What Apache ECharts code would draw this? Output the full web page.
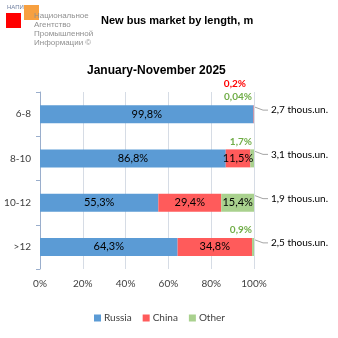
<!DOCTYPE html>
<html>
<head>
<meta charset="utf-8">
<script src="https://cdn.jsdelivr.net/npm/echarts@6/dist/echarts.min.js"></script>
<style>
  html, body { margin: 0; padding: 0; background: #fff; }
  #chart { width: 338px; height: 338px; }
</style>
</head>
<body>
<div id="chart"></div>
<script>
// Bus length classes, top to bottom
const categories = ['6-8', '8-10', '10-12', '>12'];
// Market shares by origin, %
const russia = [99.8, 86.8, 55.3, 64.3];
const china = [0.2, 11.5, 29.4, 34.8];
const other = [0.04, 1.7, 15.4, 0.9];
// Total sales per class, thousand units
const totals = [2.7, 3.1, 1.9, 2.5];
// Value axis tick labels
const xTicks = [0, 20, 40, 60, 80, 100];

const fmt = v => String(v).replace('.', ',') + '%';
const LABEL_FONT = 'Lato, "Liberation Sans", sans-serif';

const chart = echarts.init(document.getElementById('chart'), null, { renderer: 'canvas' });

const insideLabel = (arr, minShow) => ({
  show: true,
  position: 'inside',
  color: '#000',
  fontSize: 11,
  fontFamily: LABEL_FONT,
  formatter: p => (arr[p.dataIndex] >= minShow ? fmt(arr[p.dataIndex]) : '')
});

chart.setOption({
  animation: false,
  backgroundColor: '#fff',
  title: [
    {
      text: 'New bus market by length, m',
      left: 96, top: 10,
      textStyle: { fontSize: 11, fontWeight: 'bold', color: '#000', fontFamily: '"Liberation Sans", Arial, sans-serif' }
    },
    {
      text: 'January-November 2025',
      left: 82, top: 60,
      textStyle: { fontSize: 12, fontWeight: 'bold', color: '#000', fontFamily: '"Liberation Sans", Arial, sans-serif' }
    }
  ],
  graphic: [
    { type: 'rect', shape: { x: 24, y: 5, width: 15, height: 15 }, style: { fill: '#F7A040' } },
    { type: 'rect', shape: { x: 6, y: 13, width: 15, height: 15 }, style: { fill: '#FF0000' } },
    { type: 'text', x: 7, y: 4, style: { text: 'НАПИ', fontSize: 6, fill: '#6F7FA0', fontFamily: '"Liberation Sans Narrow", "Liberation Sans", sans-serif' } },
    { type: 'text', x: 34, y: 11, style: {
        text: 'Национальное\nАгентство\nПромышленной\nИнформации ©',
        fontSize: 8, lineHeight: 9, fill: '#909090',
        fontFamily: '"Liberation Sans Narrow", "Liberation Sans", sans-serif'
      } }
  ],
  legend: {
    bottom: 10,
    left: 89,
    itemWidth: 7,
    itemHeight: 7,
    itemGap: 11,
    icon: 'rect',
    textStyle: { fontSize: 10, color: '#404040', fontFamily: LABEL_FONT, padding: [0, 0, 0, -2] },
    data: ['Russia', 'China', 'Other']
  },
  grid: { left: 40, right: 84, top: 92, bottom: 69 },
  xAxis: {
    type: 'value',
    min: 0, max: 100, interval: 20,
    axisLine: { show: false },
    axisTick: { show: false },
    splitLine: { lineStyle: { color: '#D6DCE5', width: 1 } },
    axisLabel: {
      margin: 10, fontSize: 10, color: '#404040', fontFamily: LABEL_FONT,
      formatter: v => (xTicks.includes(v) ? v + '%' : '')
    }
  },
  yAxis: {
    type: 'category',
    inverse: true,
    data: categories,
    axisLine: { show: true, lineStyle: { color: '#9AAECC', width: 1 } },
    axisTick: { show: true, length: 4, lineStyle: { color: '#9AAECC' } },
    axisLabel: { margin: 9, fontSize: 10, color: '#404040', fontFamily: LABEL_FONT }
  },
  series: [
    {
      name: 'Russia', type: 'bar', stack: 'share', barWidth: 18,
      itemStyle: { color: '#5B9BD5' },
      label: insideLabel(russia, 1),
      data: russia
    },
    {
      name: 'China', type: 'bar', stack: 'share', barWidth: 18,
      itemStyle: { color: '#FF5B5B' },
      label: insideLabel(china, 1),
      data: china
    },
    {
      name: 'Other', type: 'bar', stack: 'share', barWidth: 18,
      itemStyle: { color: '#A9D18E' },
      label: insideLabel(other, 5),
      data: other
    },
    {
      // small shares written above the bar end
      type: 'custom',
      silent: true,
      data: categories.map((c, i) => [100, i]),
      encode: { x: 0, y: 1 },
      renderItem: (params, api) => {
        const i = api.value(1);
        const p = api.coord([100, i]);
        const children = [];
        if (other[i] < 5) {
          children.push({
            type: 'text',
            style: {
              text: fmt(other[i]), x: p[0] - 2, y: p[1] - 17,
              align: 'right', verticalAlign: 'middle',
              fill: '#70AD47', fontSize: 10, fontWeight: 'bold', fontFamily: LABEL_FONT
            }
          });
        }
        if (china[i] < 1) {
          children.push({
            type: 'text',
            style: {
              text: fmt(china[i]), x: p[0] - 8, y: p[1] - 30,
              align: 'right', verticalAlign: 'middle',
              fill: '#FF0000', fontSize: 10, fontWeight: 'bold', fontFamily: LABEL_FONT
            }
          });
        }
        return { type: 'group', children };
      }
    },
    {
      // totals with leader lines to the right of each bar
      type: 'custom',
      silent: true,
      data: categories.map((c, i) => [100, i]),
      encode: { x: 0, y: 1 },
      renderItem: (params, api) => {
        const i = api.value(1);
        const p = api.coord([100, i]);
        const x0 = p[0] + 1, y0 = p[1] - 7;
        const y1 = p[1] - 4;
        return {
          type: 'group',
          children: [
            {
              type: 'polyline',
              shape: { points: [[x0, y0], [x0 + 8, y1], [x0 + 13, y1]] },
              style: { stroke: '#A6A6A6', lineWidth: 1, fill: null }
            },
            {
              type: 'text',
              style: {
                text: String(totals[i]).replace('.', ',') + ' thous.un.',
                x: x0 + 16, y: y1,
                align: 'left', verticalAlign: 'middle',
                fill: '#000', fontSize: 10, fontFamily: LABEL_FONT
              }
            }
          ]
        };
      }
    }
  ]
});
</script>
</body>
</html>
